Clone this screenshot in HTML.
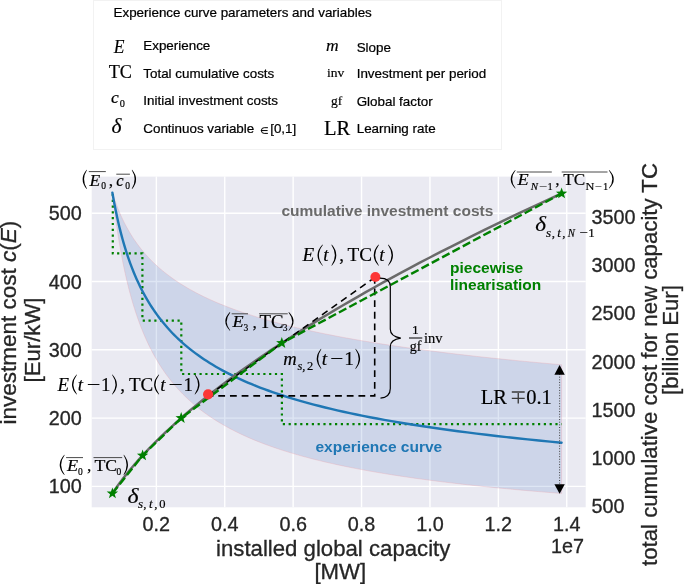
<!DOCTYPE html>
<html><head><meta charset="utf-8"><style>
html,body{margin:0;padding:0;background:#fff;}
svg{display:block;will-change:transform;}
svg{font-family:"Liberation Sans",sans-serif;}
.m{font-family:"Liberation Serif",serif;}
.i{font-style:italic;}
</style></head><body>
<svg width="685" height="584" viewBox="0 0 685 584">
<rect x="0" y="0" width="685" height="584" fill="#fff"/>
<!-- legend box -->
<rect x="93.5" y="0.5" width="408" height="149" fill="#fff" stroke="#f2f2f2" stroke-width="1"/>
<g font-size="13.4" fill="#000" stroke="#000" stroke-width="0.22">
<text x="113.5" y="16.9">Experience curve parameters and variables</text>
<text x="143.3" y="49.8">Experience</text>
<text x="143.3" y="77.6">Total cumulative costs</text>
<text x="143.3" y="104.9">Initial investment costs</text>
<text x="143.3" y="132.5">Continuos variable</text><text x="270.2" y="132.8">[0,1]</text>
<text x="356.7" y="52.2">Slope</text>
<text x="356.7" y="77.6">Investment per period</text>
<text x="356.7" y="105.5">Global factor</text>
<text x="356.7" y="133.2">Learning rate</text>
</g>
<path d="M267.9,127.7 H264.2 A2.85,2.85 0 0 0 264.2,133.4 H267.9 M260.9,130.55 H267.6" fill="none" stroke="#000" stroke-width="1.0"/>
<!-- plot area -->
<rect x="91.7" y="176.6" width="494.00" height="330.70" fill="#eaeaf2"/>
<g stroke="#fff" stroke-width="1.4"><line x1="156.35" y1="176.6" x2="156.35" y2="507.3"/><line x1="224.75" y1="176.6" x2="224.75" y2="507.3"/><line x1="293.15" y1="176.6" x2="293.15" y2="507.3"/><line x1="361.55" y1="176.6" x2="361.55" y2="507.3"/><line x1="429.95" y1="176.6" x2="429.95" y2="507.3"/><line x1="498.35" y1="176.6" x2="498.35" y2="507.3"/><line x1="566.75" y1="176.6" x2="566.75" y2="507.3"/><line x1="91.7" y1="486.40" x2="585.7" y2="486.40"/><line x1="91.7" y1="418.10" x2="585.7" y2="418.10"/><line x1="91.7" y1="349.80" x2="585.7" y2="349.80"/><line x1="91.7" y1="281.50" x2="585.7" y2="281.50"/><line x1="91.7" y1="213.20" x2="585.7" y2="213.20"/></g>
<!-- band -->
<path d="M112.40,192.71 L113.01,194.65 L113.64,196.58 L114.28,198.50 L114.94,200.41 L115.62,202.31 L116.31,204.20 L117.02,206.07 L117.74,207.94 L118.49,209.80 L119.25,211.65 L120.04,213.49 L120.84,215.32 L121.66,217.14 L122.50,218.95 L123.37,220.74 L124.25,222.53 L125.16,224.31 L126.09,226.09 L127.05,227.85 L128.02,229.60 L129.03,231.34 L130.05,233.07 L131.11,234.80 L132.18,236.51 L133.29,238.22 L134.42,239.91 L135.59,241.60 L136.78,243.28 L138.00,244.95 L139.25,246.61 L140.53,248.26 L141.85,249.90 L143.19,251.54 L144.58,253.16 L145.99,254.78 L147.44,256.38 L148.93,257.98 L150.46,259.57 L152.02,261.16 L153.62,262.73 L155.26,264.29 L156.95,265.85 L158.67,267.40 L160.44,268.94 L162.25,270.47 L164.11,271.99 L166.01,273.51 L167.97,275.01 L169.97,276.51 L172.02,278.00 L174.12,279.49 L176.28,280.96 L178.48,282.43 L180.75,283.89 L183.07,285.34 L185.45,286.78 L187.88,288.22 L190.38,289.65 L192.95,291.07 L195.57,292.48 L198.26,293.89 L201.02,295.29 L203.85,296.68 L206.75,298.06 L209.72,299.43 L212.76,300.80 L215.88,302.16 L219.08,303.52 L222.36,304.86 L225.72,306.20 L229.17,307.53 L232.70,308.86 L236.32,310.18 L240.03,311.49 L243.83,312.79 L247.73,314.09 L251.72,315.38 L255.82,316.66 L260.01,317.93 L264.32,319.20 L268.73,320.47 L273.25,321.72 L277.88,322.97 L282.63,324.21 L287.50,325.45 L292.49,326.68 L297.60,327.90 L302.84,329.11 L308.22,330.32 L313.73,331.52 L319.37,332.72 L325.16,333.91 L331.09,335.09 L337.17,336.27 L343.40,337.44 L349.79,338.61 L356.34,339.76 L363.05,340.92 L369.92,342.06 L376.98,343.20 L384.20,344.34 L391.61,345.46 L399.20,346.58 L406.99,347.70 L414.96,348.81 L423.14,349.91 L431.52,351.01 L440.11,352.10 L448.92,353.19 L457.95,354.27 L467.20,355.34 L476.68,356.41 L486.40,357.47 L496.36,358.53 L506.58,359.58 L517.04,360.63 L527.77,361.67 L538.77,362.70 L550.05,363.73 L561.60,364.75 L561.60,493.45 L550.05,492.54 L538.77,491.61 L527.77,490.67 L517.04,489.71 L506.58,488.74 L496.36,487.76 L486.40,486.76 L476.68,485.75 L467.20,484.72 L457.95,483.67 L448.92,482.62 L440.11,481.54 L431.52,480.45 L423.14,479.34 L414.96,478.22 L406.99,477.08 L399.20,475.92 L391.61,474.74 L384.20,473.55 L376.98,472.34 L369.92,471.11 L363.05,469.87 L356.34,468.60 L349.79,467.32 L343.40,466.01 L337.17,464.69 L331.09,463.35 L325.16,461.99 L319.37,460.60 L313.73,459.20 L308.22,457.77 L302.84,456.33 L297.60,454.86 L292.49,453.37 L287.50,451.86 L282.63,450.33 L277.88,448.77 L273.25,447.19 L268.73,445.59 L264.32,443.96 L260.01,442.31 L255.82,440.63 L251.72,438.93 L247.73,437.20 L243.83,435.45 L240.03,433.67 L236.32,431.87 L232.70,430.03 L229.17,428.17 L225.72,426.29 L222.36,424.37 L219.08,422.43 L215.88,420.46 L212.76,418.45 L209.72,416.42 L206.75,414.36 L203.85,412.27 L201.02,410.14 L198.26,407.98 L195.57,405.80 L192.95,403.58 L190.38,401.32 L187.88,399.03 L185.45,396.71 L183.07,394.36 L180.75,391.96 L178.48,389.54 L176.28,387.07 L174.12,384.57 L172.02,382.04 L169.97,379.46 L167.97,376.85 L166.01,374.19 L164.11,371.50 L162.25,368.77 L160.44,366.00 L158.67,363.18 L156.95,360.32 L155.26,357.42 L153.62,354.48 L152.02,351.50 L150.46,348.47 L148.93,345.39 L147.44,342.27 L145.99,339.10 L144.58,335.88 L143.19,332.62 L141.85,329.31 L140.53,325.94 L139.25,322.53 L138.00,319.07 L136.78,315.56 L135.59,311.99 L134.42,308.37 L133.29,304.69 L132.18,300.97 L131.11,297.18 L130.05,293.34 L129.03,289.44 L128.02,285.48 L127.05,281.47 L126.09,277.39 L125.16,273.26 L124.25,269.06 L123.37,264.80 L122.50,260.48 L121.66,256.09 L120.84,251.63 L120.04,247.11 L119.25,242.53 L118.49,237.87 L117.74,233.14 L117.02,228.35 L116.31,223.48 L115.62,218.54 L114.94,213.53 L114.28,208.44 L113.64,203.27 L113.01,198.03 L112.40,192.71 Z" fill="#5981ca" fill-opacity="0.2" stroke="#e8a0a8" stroke-opacity="0.45" stroke-width="0.7"/>
<!-- step dotted -->
<path d="M112.80,192.70 L112.80,253.40 L142.40,253.40 L142.40,320.60 L181.30,320.60 L181.30,374.00 L281.90,374.00 L281.90,424.10 L561.60,424.10" fill="none" stroke="#008000" stroke-width="2.2" stroke-dasharray="2.2 3.6" stroke-dashoffset="-1.2"/>
<!-- blue experience curve -->
<path d="M112.40,192.71 L113.01,196.23 L113.64,199.72 L114.28,203.17 L114.94,206.60 L115.62,209.98 L116.31,213.34 L117.02,216.66 L117.74,219.95 L118.49,223.21 L119.25,226.43 L120.04,229.63 L120.84,232.79 L121.66,235.92 L122.50,239.02 L123.37,242.10 L124.25,245.14 L125.16,248.15 L126.09,251.13 L127.05,254.09 L128.02,257.01 L129.03,259.91 L130.05,262.78 L131.11,265.62 L132.18,268.43 L133.29,271.22 L134.42,273.97 L135.59,276.71 L136.78,279.41 L138.00,282.09 L139.25,284.74 L140.53,287.37 L141.85,289.97 L143.19,292.55 L144.58,295.10 L145.99,297.62 L147.44,300.13 L148.93,302.60 L150.46,305.06 L152.02,307.49 L153.62,309.89 L155.26,312.27 L156.95,314.63 L158.67,316.97 L160.44,319.28 L162.25,321.57 L164.11,323.84 L166.01,326.09 L167.97,328.31 L169.97,330.52 L172.02,332.70 L174.12,334.86 L176.28,337.00 L178.48,339.11 L180.75,341.21 L183.07,343.29 L185.45,345.35 L187.88,347.38 L190.38,349.40 L192.95,351.40 L195.57,353.38 L198.26,355.34 L201.02,357.28 L203.85,359.20 L206.75,361.10 L209.72,362.98 L212.76,364.85 L215.88,366.70 L219.08,368.53 L222.36,370.34 L225.72,372.13 L229.17,373.91 L232.70,375.67 L236.32,377.41 L240.03,379.14 L243.83,380.84 L247.73,382.54 L251.72,384.21 L255.82,385.87 L260.01,387.51 L264.32,389.14 L268.73,390.75 L273.25,392.35 L277.88,393.93 L282.63,395.49 L287.50,397.04 L292.49,398.57 L297.60,400.09 L302.84,401.60 L308.22,403.09 L313.73,404.56 L319.37,406.02 L325.16,407.47 L331.09,408.90 L337.17,410.32 L343.40,411.73 L349.79,413.12 L356.34,414.50 L363.05,415.86 L369.92,417.21 L376.98,418.55 L384.20,419.87 L391.61,421.19 L399.20,422.48 L406.99,423.77 L414.96,425.05 L423.14,426.31 L431.52,427.56 L440.11,428.79 L448.92,430.02 L457.95,431.23 L467.20,432.43 L476.68,433.62 L486.40,434.80 L496.36,435.97 L506.58,437.12 L517.04,438.27 L527.77,439.40 L538.77,440.52 L550.05,441.63 L561.60,442.73" fill="none" stroke="#1f77b4" stroke-width="2.4" stroke-linecap="round"/>
<!-- gray TC curve -->
<path d="M112.40,493.40 L113.14,492.30 L113.90,491.19 L114.68,490.05 L115.48,488.89 L116.31,487.71 L117.16,486.51 L118.04,485.29 L118.95,484.05 L119.88,482.78 L120.84,481.50 L121.83,480.18 L122.85,478.85 L123.90,477.49 L124.98,476.11 L126.09,474.70 L127.24,473.27 L128.42,471.81 L129.64,470.33 L130.89,468.82 L132.18,467.28 L133.51,465.72 L134.89,464.12 L136.30,462.50 L137.75,460.85 L139.25,459.17 L140.79,457.46 L142.38,455.72 L144.02,453.95 L145.71,452.15 L147.44,450.31 L149.23,448.44 L151.08,446.54 L152.98,444.60 L154.93,442.63 L156.95,440.63 L159.02,438.59 L161.16,436.51 L163.36,434.39 L165.63,432.24 L167.97,430.05 L170.37,427.82 L172.85,425.55 L175.41,423.24 L178.04,420.88 L180.75,418.49 L183.54,416.05 L186.41,413.57 L189.38,411.05 L192.43,408.48 L195.57,405.86 L198.81,403.20 L202.14,400.49 L205.58,397.73 L209.12,394.92 L212.76,392.06 L216.51,389.15 L220.38,386.19 L224.37,383.17 L228.47,380.10 L232.70,376.98 L237.05,373.80 L241.54,370.56 L246.16,367.27 L250.91,363.92 L255.82,360.50 L260.87,357.03 L266.07,353.49 L271.43,349.89 L276.94,346.23 L282.63,342.50 L288.49,338.70 L294.52,334.84 L300.73,330.91 L307.13,326.90 L313.73,322.83 L320.52,318.68 L327.51,314.46 L334.72,310.16 L342.14,305.79 L349.79,301.33 L357.66,296.80 L365.78,292.19 L374.13,287.49 L382.74,282.71 L391.61,277.85 L400.75,272.89 L410.15,267.85 L419.85,262.72 L429.83,257.50 L440.11,252.18 L450.71,246.77 L461.62,241.27 L472.86,235.66 L484.44,229.95 L496.36,224.14 L508.65,218.23 L521.30,212.21 L534.34,206.09 L547.77,199.85 L561.60,193.50" fill="none" stroke="#6a6a6a" stroke-width="2.5"/>
<!-- black dashed -->
<g stroke="#000" stroke-width="1.6" fill="none" stroke-dasharray="6.8 4.88">
<path d="M206.6,395.85 L374.7,395.85 L374.7,277.2"/>
<path d="M208.1,395.6 L374.8,277.4" stroke-dashoffset="0.56"/>
</g>
<!-- green dashed piecewise -->
<path d="M112.40,493.40 L142.60,455.48 L181.20,418.09 L281.80,343.04 L561.60,193.50" fill="none" stroke="#008000" stroke-width="2.4" stroke-dasharray="8.4 3.3"/>
<!-- stars -->
<g fill="#008000"><path d="M112.40,487.40 L113.84,491.42 L118.11,491.55 L114.73,494.16 L115.93,498.26 L112.40,495.85 L108.88,498.26 L110.07,494.16 L106.70,491.55 L110.96,491.42 Z"/><path d="M142.60,449.48 L144.04,453.50 L148.31,453.63 L144.93,456.24 L146.13,460.34 L142.60,457.93 L139.07,460.34 L140.27,456.24 L136.89,453.63 L141.16,453.50 Z"/><path d="M181.20,412.09 L182.64,416.11 L186.91,416.24 L183.53,418.85 L184.73,422.95 L181.20,420.54 L177.67,422.95 L178.87,418.85 L175.49,416.24 L179.76,416.11 Z"/><path d="M281.80,337.04 L283.24,341.06 L287.51,341.19 L284.13,343.80 L285.33,347.89 L281.80,345.49 L278.27,347.89 L279.47,343.80 L276.09,341.19 L280.36,341.06 Z"/><path d="M561.60,187.50 L563.04,191.52 L567.31,191.65 L563.93,194.26 L565.13,198.36 L561.60,195.95 L558.07,198.36 L559.27,194.26 L555.89,191.65 L560.16,191.52 Z"/></g>
<!-- red dots -->
<circle cx="208.1" cy="394.3" r="5.1" fill="#fc3636"/>
<circle cx="375.4" cy="277.0" r="5.0" fill="#fc3636"/>
<!-- brace -->
<path d="M379.9,278.1 Q390.3,278.1 390.3,286.5 L390.3,329.3 Q390.3,336.5 400.8,338.1 Q390.3,339.7 390.3,346.5 L390.3,388.4 Q390.3,397 380.5,398.1" fill="none" stroke="#000" stroke-width="1.2"/>
<!-- LR arrow -->
<line x1="559.6" y1="374" x2="559.6" y2="485" stroke="#3c3c3c" stroke-width="0.95" stroke-dasharray="1 1.65"/>
<path d="M559.6,365 L564.8,374.8 L554.4,374.8 Z" fill="#000"/>
<path d="M559.6,493.7 L564.8,484.2 L554.4,484.2 Z" fill="#000"/>
<!-- bold annotations -->
<g font-weight="bold" font-size="15.5">
<text x="281.4" y="215.8" fill="#6a6a6a">cumulative investment costs</text>
<text x="450" y="273.1" fill="#008000">piecewise</text>
<text x="450" y="290.2" fill="#008000">linearisation</text>
<text x="315.5" y="452.2" fill="#1f77b4">experience curve</text>
</g>
<!-- math annotations -->
<g>
<text transform="translate(113.86,53.00) scale(0.933,1.000)" font-family="Liberation Serif" font-size="18.8" font-style="italic" fill="#000" stroke="#000" stroke-width="0.18">E</text>
<text x="108.73" y="77.80" font-family="Liberation Serif" font-size="18.2" fill="#000" stroke="#000" stroke-width="0.18">TC</text>
<text x="111.07" y="103.20" font-family="Liberation Serif" font-size="17.5" font-style="italic" fill="#000" stroke="#000" stroke-width="0.18">c</text>
<text x="119.74" y="107.10" font-family="Liberation Serif" font-size="10.3" fill="#000" stroke="#000" stroke-width="0.18">0</text>
<text x="111.56" y="133.30" font-family="Liberation Serif" font-size="21.5" font-style="italic" fill="#000" stroke="#000" stroke-width="0.18">δ</text>
<text x="325.99" y="51.00" font-family="Liberation Serif" font-size="17.5" font-style="italic" fill="#000" stroke="#000" stroke-width="0.18">m</text>
<text x="326.93" y="77.20" font-family="Liberation Serif" font-size="13.5" fill="#000" stroke="#000" stroke-width="0.18">inv</text>
<text x="331.06" y="105.30" font-family="Liberation Serif" font-size="13.5" fill="#000" stroke="#000" stroke-width="0.18">gf</text>
<text x="323.89" y="134.90" font-family="Liberation Serif" font-size="20.5" fill="#000" stroke="#000" stroke-width="0.18">LR</text>
<text x="89.46" y="185.60" font-family="Liberation Serif" font-size="17.5" font-style="italic" fill="#000" stroke="#000" stroke-width="0.18">E</text>
<text x="101.17" y="189.10" font-family="Liberation Serif" font-size="9.5" fill="#000" stroke="#000" stroke-width="0.18">0</text>
<line x1="88.8" y1="171.6" x2="105.8" y2="171.6" stroke="#4a4a4a" stroke-width="1.0"/>
<text x="108.69" y="185.60" font-family="Liberation Serif" font-size="17.5" fill="#000" stroke="#000" stroke-width="0.18">,</text>
<text x="116.30" y="185.60" font-family="Liberation Serif" font-size="16.5" font-style="italic" fill="#000" stroke="#000" stroke-width="0.18">c</text>
<text x="125.17" y="189.10" font-family="Liberation Serif" font-size="9.5" fill="#000" stroke="#000" stroke-width="0.18">0</text>
<line x1="116.3" y1="174.2" x2="129.9" y2="174.2" stroke="#4a4a4a" stroke-width="1.0"/>
<text transform="translate(517.58,185.00) scale(1.049,1.000)" font-family="Liberation Serif" font-size="17.5" font-style="italic" fill="#000" stroke="#000" stroke-width="0.18">E</text>
<text transform="translate(530.71,189.60) scale(1.038,1.000)" font-family="Liberation Serif" font-size="10.5" font-style="italic" fill="#000" stroke="#000" stroke-width="0.18">N</text>
<text transform="translate(539.47,189.60) scale(1.343,1.000)" font-family="Liberation Serif" font-size="10.5" fill="#000" stroke="#000" stroke-width="0.18">−</text>
<text x="547.51" y="189.60" font-family="Liberation Serif" font-size="10.5" fill="#000" stroke="#000" stroke-width="0.18">1</text>
<line x1="516.8" y1="172.0" x2="551.8" y2="172.0" stroke="#4a4a4a" stroke-width="1.0"/>
<text x="555.29" y="185.20" font-family="Liberation Serif" font-size="17.5" fill="#000" stroke="#000" stroke-width="0.18">,</text>
<text transform="translate(563.14,185.20) scale(0.982,1.000)" font-family="Liberation Serif" font-size="17.5" fill="#000" stroke="#000" stroke-width="0.18">TC</text>
<text transform="translate(585.59,189.60) scale(1.171,1.000)" font-family="Liberation Serif" font-size="10.5" fill="#000" stroke="#000" stroke-width="0.18">N</text>
<text transform="translate(595.35,189.60) scale(1.163,1.000)" font-family="Liberation Serif" font-size="10.5" fill="#000" stroke="#000" stroke-width="0.18">−</text>
<text x="603.01" y="189.60" font-family="Liberation Serif" font-size="10.5" fill="#000" stroke="#000" stroke-width="0.18">1</text>
<line x1="561.7" y1="172.0" x2="607.5" y2="172.0" stroke="#4a4a4a" stroke-width="1.0"/>
<text transform="translate(535.32,231.30) scale(1.154,1.000)" font-family="Liberation Serif" font-size="20" font-style="italic" fill="#000" stroke="#000" stroke-width="0.18">δ</text>
<text x="546.07" y="236.60" font-family="Liberation Serif" font-size="13" font-style="italic" fill="#000" stroke="#000" stroke-width="0.18">s</text>
<text x="551.64" y="236.60" font-family="Liberation Serif" font-size="13" fill="#000" stroke="#000" stroke-width="0.18">,</text>
<text x="557.28" y="236.60" font-family="Liberation Serif" font-size="13" font-style="italic" fill="#000" stroke="#000" stroke-width="0.18">t</text>
<text x="562.25" y="236.60" font-family="Liberation Serif" font-size="13" fill="#000" stroke="#000" stroke-width="0.18">,</text>
<text transform="translate(567.81,236.60) scale(0.828,1.000)" font-family="Liberation Serif" font-size="13" font-style="italic" fill="#000" stroke="#000" stroke-width="0.18">N</text>
<text transform="translate(579.23,236.60) scale(1.150,1.000)" font-family="Liberation Serif" font-size="13" fill="#000" stroke="#000" stroke-width="0.18">−</text>
<text x="588.19" y="236.60" font-family="Liberation Serif" font-size="13" fill="#000" stroke="#000" stroke-width="0.18">1</text>
<text transform="translate(302.49,261.00) scale(1.009,1.000)" font-family="Liberation Serif" font-size="19" font-style="italic" fill="#000" stroke="#000" stroke-width="0.18">E</text>
<text x="323.34" y="261.00" font-family="Liberation Serif" font-size="19" font-style="italic" fill="#000" stroke="#000" stroke-width="0.18">t</text>
<text x="339.13" y="261.00" font-family="Liberation Serif" font-size="19" fill="#000" stroke="#000" stroke-width="0.18">,</text>
<text transform="translate(347.61,261.20) scale(1.008,1.000)" font-family="Liberation Serif" font-size="19" fill="#000" stroke="#000" stroke-width="0.18">TC</text>
<text x="379.14" y="261.00" font-family="Liberation Serif" font-size="19" font-style="italic" fill="#000" stroke="#000" stroke-width="0.18">t</text>
<text transform="translate(232.57,327.30) scale(1.040,1.000)" font-family="Liberation Serif" font-size="17.5" font-style="italic" fill="#000" stroke="#000" stroke-width="0.18">E</text>
<text x="243.47" y="331.40" font-family="Liberation Serif" font-size="9.5" fill="#000" stroke="#000" stroke-width="0.18">3</text>
<line x1="231.7" y1="313.8" x2="248.0" y2="313.8" stroke="#4a4a4a" stroke-width="1.0"/>
<text x="252.39" y="327.60" font-family="Liberation Serif" font-size="17.5" fill="#000" stroke="#000" stroke-width="0.18">,</text>
<text transform="translate(259.42,327.50) scale(1.023,1.000)" font-family="Liberation Serif" font-size="18.4" fill="#000" stroke="#000" stroke-width="0.18">TC</text>
<text x="282.67" y="331.40" font-family="Liberation Serif" font-size="9.5" fill="#000" stroke="#000" stroke-width="0.18">3</text>
<line x1="259.1" y1="313.8" x2="287.7" y2="313.8" stroke="#4a4a4a" stroke-width="1.0"/>
<text transform="translate(283.35,364.90) scale(1.006,1.000)" font-family="Liberation Serif" font-size="18.5" font-style="italic" fill="#000" stroke="#000" stroke-width="0.18">m</text>
<text x="297.48" y="369.50" font-family="Liberation Serif" font-size="12.5" font-style="italic" fill="#000" stroke="#000" stroke-width="0.18">s,</text>
<text x="307.00" y="369.50" font-family="Liberation Serif" font-size="12.5" fill="#000" stroke="#000" stroke-width="0.18">2</text>
<text x="321.82" y="364.90" font-family="Liberation Serif" font-size="19.5" font-style="italic" fill="#000" stroke="#000" stroke-width="0.18">t</text>
<text transform="translate(330.26,364.90) scale(1.188,1.000)" font-family="Liberation Serif" font-size="19.5" fill="#000" stroke="#000" stroke-width="0.18">−</text>
<text x="344.24" y="364.90" font-family="Liberation Serif" font-size="19.5" fill="#000" stroke="#000" stroke-width="0.18">1</text>
<text transform="translate(57.48,390.60) scale(0.992,1.000)" font-family="Liberation Serif" font-size="19" font-style="italic" fill="#000" stroke="#000" stroke-width="0.18">E</text>
<text x="77.84" y="390.60" font-family="Liberation Serif" font-size="19" font-style="italic" fill="#000" stroke="#000" stroke-width="0.18">t</text>
<text transform="translate(86.71,390.60) scale(1.274,1.000)" font-family="Liberation Serif" font-size="19" fill="#000" stroke="#000" stroke-width="0.18">−</text>
<text x="100.98" y="390.60" font-family="Liberation Serif" font-size="19" fill="#000" stroke="#000" stroke-width="0.18">1</text>
<text x="120.33" y="390.80" font-family="Liberation Serif" font-size="19" fill="#000" stroke="#000" stroke-width="0.18">,</text>
<text x="129.02" y="390.60" font-family="Liberation Serif" font-size="19" fill="#000" stroke="#000" stroke-width="0.18">TC</text>
<text x="160.14" y="390.60" font-family="Liberation Serif" font-size="19" font-style="italic" fill="#000" stroke="#000" stroke-width="0.18">t</text>
<text transform="translate(168.46,390.60) scale(1.330,1.000)" font-family="Liberation Serif" font-size="19" fill="#000" stroke="#000" stroke-width="0.18">−</text>
<text x="183.48" y="390.60" font-family="Liberation Serif" font-size="19" fill="#000" stroke="#000" stroke-width="0.18">1</text>
<text x="411.95" y="334.30" font-family="Liberation Serif" font-size="13.5" fill="#000" stroke="#000" stroke-width="0.18">1</text>
<line x1="409.0" y1="338.0" x2="422.3" y2="338.0" stroke="#000" stroke-width="1.0"/>
<text x="409.64" y="351.40" font-family="Liberation Serif" font-size="14" fill="#000" stroke="#000" stroke-width="0.18">gf</text>
<text x="423.91" y="342.90" font-family="Liberation Serif" font-size="14.5" fill="#000" stroke="#000" stroke-width="0.18">inv</text>
<text x="480.79" y="403.60" font-family="Liberation Serif" font-size="20.5" fill="#000" stroke="#000" stroke-width="0.18">LR</text>
<text x="526.18" y="403.60" font-family="Liberation Serif" font-size="20.5" fill="#000" stroke="#000" stroke-width="0.18">0.1</text>
<text transform="translate(66.97,471.00) scale(1.040,1.000)" font-family="Liberation Serif" font-size="17.5" font-style="italic" fill="#000" stroke="#000" stroke-width="0.18">E</text>
<text x="78.07" y="475.10" font-family="Liberation Serif" font-size="9.5" fill="#000" stroke="#000" stroke-width="0.18">0</text>
<line x1="66.1" y1="457.6" x2="83.0" y2="457.6" stroke="#4a4a4a" stroke-width="1.0"/>
<text x="87.09" y="471.20" font-family="Liberation Serif" font-size="17.5" fill="#000" stroke="#000" stroke-width="0.18">,</text>
<text transform="translate(94.43,471.00) scale(1.019,1.000)" font-family="Liberation Serif" font-size="17.5" fill="#000" stroke="#000" stroke-width="0.18">TC</text>
<text x="116.57" y="475.10" font-family="Liberation Serif" font-size="9.5" fill="#000" stroke="#000" stroke-width="0.18">0</text>
<line x1="93.5" y1="457.6" x2="122.2" y2="457.6" stroke="#4a4a4a" stroke-width="1.0"/>
<text transform="translate(127.41,502.90) scale(1.158,1.000)" font-family="Liberation Serif" font-size="20.5" font-style="italic" fill="#000" stroke="#000" stroke-width="0.18">δ</text>
<text x="137.97" y="508.00" font-family="Liberation Serif" font-size="13" font-style="italic" fill="#000" stroke="#000" stroke-width="0.18">s</text>
<text x="143.34" y="508.00" font-family="Liberation Serif" font-size="13" fill="#000" stroke="#000" stroke-width="0.18">,</text>
<text x="149.08" y="508.00" font-family="Liberation Serif" font-size="13" font-style="italic" fill="#000" stroke="#000" stroke-width="0.18">t</text>
<text x="154.24" y="508.00" font-family="Liberation Serif" font-size="13" fill="#000" stroke="#000" stroke-width="0.18">,</text>
<text x="159.36" y="508.00" font-family="Liberation Serif" font-size="12.5" fill="#000" stroke="#000" stroke-width="0.18">0</text>
<g fill="#000"><path d="M86.60,169.80 Q78.60,179.45 86.60,189.10 L86.95,188.80 Q81.10,179.45 86.95,170.10 Z"/><path d="M132.10,169.80 Q140.10,179.45 132.10,189.10 L131.75,188.80 Q137.60,179.45 131.75,170.10 Z"/><path d="M515.20,170.00 Q506.20,179.30 515.20,188.60 L515.55,188.30 Q508.70,179.30 515.55,170.30 Z"/><path d="M609.20,170.00 Q618.40,179.30 609.20,188.60 L608.85,188.30 Q615.90,179.30 608.85,170.30 Z"/><path d="M322.50,244.60 Q312.50,255.15 322.50,265.70 L322.85,265.40 Q315.00,255.15 322.85,244.90 Z"/><path d="M331.80,244.60 Q340.80,255.15 331.80,265.70 L331.45,265.40 Q338.30,255.15 331.45,244.90 Z"/><path d="M378.50,244.60 Q368.90,255.15 378.50,265.70 L378.85,265.40 Q371.40,255.15 378.85,244.90 Z"/><path d="M388.40,244.60 Q397.60,255.15 388.40,265.70 L388.05,265.40 Q395.10,255.15 388.05,244.90 Z"/><path d="M229.90,312.10 Q220.70,321.45 229.90,330.80 L230.25,330.50 Q223.20,321.45 230.25,312.40 Z"/><path d="M288.90,312.10 Q298.30,321.45 288.90,330.80 L288.55,330.50 Q295.80,321.45 288.55,312.40 Z"/><path d="M321.00,348.80 Q312.40,358.85 321.00,368.90 L321.35,368.60 Q314.90,358.85 321.35,349.10 Z"/><path d="M355.70,348.80 Q364.50,358.85 355.70,368.90 L355.35,368.60 Q362.00,358.85 355.35,349.10 Z"/><path d="M76.60,374.40 Q67.40,384.50 76.60,394.60 L76.95,394.30 Q69.90,384.50 76.95,374.70 Z"/><path d="M112.40,374.40 Q121.40,384.50 112.40,394.60 L112.05,394.30 Q118.90,384.50 112.05,374.70 Z"/><path d="M158.80,374.40 Q149.40,384.50 158.80,394.60 L159.15,394.30 Q151.90,384.50 159.15,374.70 Z"/><path d="M195.00,374.40 Q204.00,384.50 195.00,394.60 L194.65,394.30 Q201.50,384.50 194.65,374.70 Z"/><path d="M64.30,454.70 Q55.10,464.90 64.30,475.10 L64.65,474.80 Q57.60,464.90 64.65,455.00 Z"/><path d="M123.90,454.70 Q132.10,464.90 123.90,475.10 L123.55,474.80 Q129.60,464.90 123.55,455.00 Z"/></g>
<path d="M511.8,392 H524.7 M511.8,398.4 H524.7 M518.25,393 V403.6" fill="none" stroke="#3a3a3a" stroke-width="1.35"/>
</g>
<!-- tick labels -->
<g font-size="19.8" fill="#262626" stroke="#262626" stroke-width="0.3"><text x="156.35" y="531.3" text-anchor="middle">0.2</text><text x="224.75" y="531.3" text-anchor="middle">0.4</text><text x="293.15" y="531.3" text-anchor="middle">0.6</text><text x="361.55" y="531.3" text-anchor="middle">0.8</text><text x="429.95" y="531.3" text-anchor="middle">1.0</text><text x="498.35" y="531.3" text-anchor="middle">1.2</text><text x="566.75" y="531.3" text-anchor="middle">1.4</text><text x="81.8" y="493.40" text-anchor="end">100</text><text x="81.8" y="425.10" text-anchor="end">200</text><text x="81.8" y="356.80" text-anchor="end">300</text><text x="81.8" y="288.50" text-anchor="end">400</text><text x="81.8" y="220.20" text-anchor="end">500</text><text x="591.5" y="513.40">500</text><text x="591.5" y="465.10">1000</text><text x="591.5" y="416.80">1500</text><text x="591.5" y="368.50">2000</text><text x="591.5" y="320.20">2500</text><text x="591.5" y="271.90">3000</text><text x="591.5" y="223.60">3500</text>
<text x="551.0" y="553.1">1e7</text>
</g>
<!-- axis labels -->
<g font-size="22.2" fill="#262626" stroke="#262626" stroke-width="0.3">
<text x="333.2" y="556.2" text-anchor="middle">installed global capacity</text>
<text x="340.3" y="578.5" text-anchor="middle">[MW]</text>
<text transform="translate(16.3,322.6) rotate(-90)" text-anchor="middle" font-size="22.5">investment cost <tspan font-style="italic">c</tspan>(<tspan font-style="italic">E</tspan>)</text>
<text transform="translate(40.2,340) rotate(-90)" text-anchor="middle">[Eur/kW]</text>
<text transform="translate(657,364.5) rotate(-90)" text-anchor="middle">total cumulative cost for new capacity TC</text>
<text transform="translate(678.3,340) rotate(-90)" text-anchor="middle">[billion Eur]</text>
</g>
</svg>
</body></html>
